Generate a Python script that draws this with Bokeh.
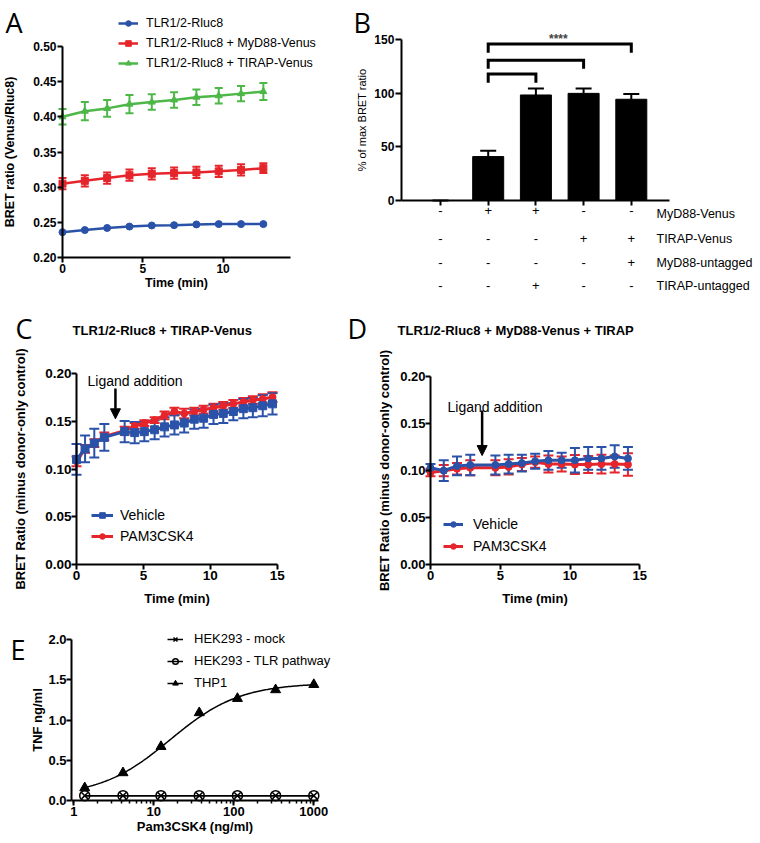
import numpy as np
from bokeh.plotting import figure
from bokeh.layouts import column, row
from bokeh.models import (Range1d, FixedTicker, Whisker, TeeHead, ColumnDataSource, Legend,
                          LegendItem, Label, LabelSet, Arrow, NormalHead, NumeralTickFormatter)
from bokeh.embed import file_html
from bokeh.resources import INLINE
from bokeh.core.properties import value

FONT = "Liberation Sans"
LFONT = "Open Sans"
BLUE = "#2a52a8"
RED = "#e5252b"
GREEN = "#4db748"

# ---------------- data ----------------
# Panel A
a_time = [0, 1.39, 2.78, 4.17, 5.56, 6.95, 8.34, 9.73, 11.12, 12.51]
a_rluc = [0.236, 0.239, 0.242, 0.244, 0.2455, 0.246, 0.247, 0.2475, 0.2475, 0.2475]
a_myd = [0.305, 0.309, 0.313, 0.317, 0.319, 0.320, 0.321, 0.3225, 0.3245, 0.327]
a_myd_err = [0.008, 0.008, 0.008, 0.008, 0.008, 0.008, 0.008, 0.008, 0.008, 0.007]
a_tirap = [0.400, 0.408, 0.412, 0.418, 0.421, 0.424, 0.428, 0.430, 0.433, 0.436]
a_tirap_err = [0.011, 0.013, 0.012, 0.013, 0.011, 0.011, 0.011, 0.011, 0.011, 0.012]
a_names = ["TLR1/2-Rluc8", "TLR1/2-Rluc8 + MyD88-Venus", "TLR1/2-Rluc8 + TIRAP-Venus"]

# Panel B
b_values = [0, 41, 98.5, 100, 94.5]
b_err = [0, 5.5, 6, 4.5, 5]
b_rows = ["MyD88-Venus", "TIRAP-Venus", "MyD88-untagged", "TIRAP-untagged"]
b_table = [["-", "+", "+", "-", "-"],
           ["-", "-", "-", "+", "+"],
           ["-", "-", "-", "-", "+"],
           ["-", "-", "+", "-", "-"]]
b_brackets = [(1, 2, 118), (1, 3, 131), (1, 4, 146)]
b_sig = "****"

# Panel C
c_time = [0, 0.64, 1.33, 2.08, 3.6, 4.35, 5.07, 5.84, 6.58, 7.32, 8.05, 8.8, 9.5, 10.24,
          10.97, 11.72, 12.47, 13.18, 13.92, 14.65]
c_vehicle = [0.110, 0.121, 0.127, 0.133, 0.139, 0.138, 0.139, 0.141, 0.144, 0.146, 0.148,
             0.152, 0.153, 0.157, 0.158, 0.160, 0.163, 0.164, 0.166, 0.168]
c_vehicle_err = [0.016, 0.014, 0.015, 0.014, 0.011, 0.011, 0.010, 0.010, 0.010, 0.010, 0.010,
                 0.010, 0.010, 0.010, 0.010, 0.009, 0.010, 0.010, 0.011, 0.011]
c_pam = [0.108, 0.121, 0.127, 0.134, 0.140, 0.145, 0.148, 0.151, 0.156, 0.160, 0.158, 0.160,
         0.162, 0.164, 0.166, 0.168, 0.170, 0.172, 0.173, 0.175]
c_pam_err = [0.005, 0.004, 0.004, 0.004, 0.004, 0.003, 0.003, 0.003, 0.004, 0.004, 0.005,
             0.004, 0.004, 0.004, 0.004, 0.004, 0.004, 0.004, 0.005, 0.005]
c_ligand_time = 2.91

# Panel D
d_time = [0, 0.95, 1.9, 2.85, 4.65, 5.6, 6.55, 7.5, 8.45, 9.4, 10.35, 11.3, 12.25, 13.2, 14.15]
d_vehicle = [0.103, 0.100, 0.105, 0.106, 0.106, 0.107, 0.108, 0.110, 0.111, 0.111, 0.111,
             0.113, 0.113, 0.115, 0.113]
d_vehicle_err = [0.004, 0.011, 0.010, 0.011, 0.010, 0.010, 0.009, 0.008, 0.010, 0.008, 0.013,
                 0.012, 0.012, 0.012, 0.012]
d_pam = [0.098, 0.100, 0.102, 0.103, 0.103, 0.104, 0.1065, 0.109, 0.107, 0.107, 0.1065,
         0.1065, 0.107, 0.107, 0.1065]
d_pam_err = [0.004, 0.006, 0.006, 0.008, 0.008, 0.008, 0.007, 0.006, 0.009, 0.008, 0.010,
             0.009, 0.010, 0.009, 0.012]
d_ligand_time = 3.7

# Panel E
e_dose = [1.37, 4.12, 12.3, 37.0, 111, 333, 1000]
e_thp1 = [0.157, 0.344, 0.67, 1.09, 1.267, 1.375, 1.44]
e_mock = [0.06, 0.06, 0.06, 0.06, 0.06, 0.06, 0.06]
e_tlr = [0.06, 0.06, 0.06, 0.06, 0.06, 0.06, 0.06]
e_fit_bottom, e_fit_top, e_fit_ec50, e_fit_hill = 0.05, 1.46, 16.0, 1.0


# ---------------- helpers ----------------
def lin_range(v0, p0, v1, p1, lo, hi):
    """Range whose values v0, v1 fall at page pixels p0, p1 for a figure spanning lo..hi."""
    s = (p1 - p0) / (v1 - v0)
    return Range1d(v0 + (lo - p0) / s, v0 + (hi - p0) / s)


def make_fig(w, h, xr, yr, x_axis_type="linear"):
    p = figure(width=w, height=h, x_range=xr, y_range=yr, min_border=0,
               output_backend="svg", toolbar_location=None, x_axis_type=x_axis_type)
    p.grid.visible = False
    p.outline_line_color = None
    p.background_fill_color = "white"
    p.border_fill_color = "white"
    return p


def style(p, tick_size, label_size, xloc, yloc, xbounds, ybounds, xstand=1, ystand=1,
          xlab=0, ylab=5, tick_out=5, ylabel_bold=True):
    for ax in p.axis:
        ax.axis_line_width = 2
        ax.axis_line_color = "black"
        ax.major_tick_line_width = 2
        ax.major_tick_line_color = "black"
        ax.major_tick_in = 0
        ax.major_tick_out = tick_out
        ax.minor_tick_line_color = None
        ax.major_label_text_font = FONT
        ax.major_label_text_font_style = "bold"
        ax.major_label_text_font_size = tick_size
        ax.major_label_text_color = "black"
        ax.axis_label_text_font = FONT
        ax.axis_label_text_font_style = "bold"
        ax.axis_label_text_font_size = label_size
        ax.axis_label_text_color = "black"
    p.xaxis.fixed_location = xloc
    p.yaxis.fixed_location = yloc
    p.xaxis.bounds = xbounds
    p.yaxis.bounds = ybounds
    p.xaxis.major_label_standoff = xstand
    p.yaxis.major_label_standoff = ystand
    p.xaxis.axis_label_standoff = xlab
    p.yaxis.axis_label_standoff = ylab
    if not ylabel_bold:
        p.yaxis.axis_label_text_font_style = "normal"


def errbars(p, x, y, err, color, cap, lw=2, upper_only=False):
    up = [v + e for v, e in zip(y, err)]
    lo = list(y) if upper_only else [v - e for v, e in zip(y, err)]
    src = ColumnDataSource(dict(base=list(x), upper=up, lower=lo))
    w = Whisker(source=src, base="base", upper="upper", lower="lower",
                line_color=color, line_width=lw,
                upper_head=TeeHead(size=cap, line_color=color, line_width=lw),
                lower_head=None if upper_only else TeeHead(size=cap, line_color=color, line_width=lw))
    p.add_layout(w)


def label(p, x, y, text, size, units="screen", font=FONT, fstyle="normal", align="left",
          baseline="alphabetic"):
    p.add_layout(Label(x=x, y=y, x_units=units, y_units=units, text=text, text_font=font,
                       text_font_size=size, text_font_style=fstyle, text_align=align,
                       text_baseline=baseline, text_color="black"))


def legend(p, items, x, y, gw, size, spacing, standoff, gh=14):
    leg = Legend(items=items, location=(x, y), orientation="vertical", glyph_width=gw,
                 glyph_height=gh, label_height=gh, spacing=spacing, padding=0, margin=0,
                 border_line_color=None, background_fill_alpha=0, label_text_font=FONT,
                 label_text_font_size=size, label_standoff=standoff, label_text_color="black")
    p.add_layout(leg)


LETTER = "27px"

# ---------------- Panel A  (page x 0..350, y 0..300) ----------------
pA = make_fig(350, 300, lin_range(0, 62, 14.2, 290, 0, 350),
              lin_range(0.2, 257, 0.5, 46, 300, 0))
style(pA, "12px", "12.5px", 0.2, 0, (0, 14.2), (0.2, 0.5), xstand=1, ystand=1, xlab=0, ylab=13)
pA.xaxis.ticker = FixedTicker(ticks=[0, 5, 10])
pA.yaxis.ticker = FixedTicker(ticks=[0.2, 0.25, 0.3, 0.35, 0.4, 0.45, 0.5])
pA.yaxis.formatter = NumeralTickFormatter(format="0.00")
pA.xaxis.axis_label = "Time (min)"
pA.yaxis.axis_label = "BRET ratio (Venus/Rluc8)"
itemsA = []
for y, err, color, marker, size, name in [
        (a_rluc, None, BLUE, "circle", 7, a_names[0]),
        (a_myd, a_myd_err, RED, "square", 7, a_names[1]),
        (a_tirap, a_tirap_err, GREEN, "triangle", 7, a_names[2])]:
    if err is not None:
        errbars(pA, a_time, y, err, color, 8)
    l = pA.line(a_time, y, line_color=color, line_width=2.5)
    s = pA.scatter(a_time, y, marker=marker, size=size, fill_color=color, line_color=color)
    itemsA.append(LegendItem(label=name, renderers=[l, s]))
legend(pA, itemsA, 118, 230, 20, "12.5px", 6, 8)
label(pA, 5, 278, "A", LETTER, font=LFONT)

# ---------------- Panel B  (page x 350..760, y 0..300) ----------------
b_idx = list(range(len(b_values)))
pB = make_fig(410, 300, lin_range(0, 440, 1, 487.7, 350, 760),
              lin_range(0, 200, 150, 39.3, 300, 0))
style(pB, "12px", "11px", 0, -0.82, (-0.82, 4.8), (0, 150), xstand=0, ystand=1, xlab=0,
      ylab=3, tick_out=6, ylabel_bold=False)
pB.xaxis.ticker = FixedTicker(ticks=b_idx)
pB.xaxis.major_tick_out = 5
pB.xaxis.major_label_overrides = {i: s for i, s in zip(b_idx, b_table[0])}
pB.xaxis.major_label_text_font_style = "normal"
pB.xaxis.major_label_text_font_size = "13px"
pB.yaxis.ticker = FixedTicker(ticks=[0, 50, 100, 150])
pB.yaxis.axis_label = "% of max BRET ratio"
errbars(pB, b_idx, b_values, b_err, "black", 16, lw=2, upper_only=True)
pB.vbar(x=b_idx, top=b_values, width=0.65, fill_color="black", line_color="black")
leg_drop = 8
pB.multi_line(xs=[[a, a, b, b] for a, b, h in b_brackets],
              ys=[[h - leg_drop, h, h, h - leg_drop] for a, b, h in b_brackets],
              line_color="black", line_width=3, line_join="miter")
pB.add_layout(Label(x=2.47, y=151, text=b_sig, text_font=FONT, text_font_size="12px",
                    text_font_style="bold", text_align="center", text_baseline="alphabetic"))
row_y = [87, 62, 38, 15]          # screen px above figure bottom
tx, ty, tt = [], [], []
for r, cells in enumerate(b_table):
    if r == 0:
        continue                  # first row is carried by the x-axis tick labels
    for i, c in enumerate(cells):
        tx.append(b_idx[i]); ty.append(row_y[r]); tt.append(c)
pB.add_layout(LabelSet(x="x", y="y", text="t", source=ColumnDataSource(dict(x=tx, y=ty, t=tt)),
                       x_units="data", y_units="screen", text_font=value(FONT),
                       text_font_size=value("13px"), text_align="center",
                       text_baseline="middle", text_color="black"))
for r, name in enumerate(b_rows):
    label(pB, 306, row_y[r], name, "12.5px", baseline="middle")
label(pB, 3, 278, "B", LETTER, font=LFONT)

# ---------------- Panel C  (page x 0..345, y 300..610) ----------------
pC = make_fig(345, 310, lin_range(0, 76, 15, 276.7, 0, 345),
              lin_range(0, 564.3, 0.2, 372.7, 610, 300))
style(pC, "13.5px", "13px", 0, 0, (0, 15), (0, 0.2), xstand=1, ystand=0, xlab=8, ylab=14)
pC.xaxis.ticker = FixedTicker(ticks=[0, 5, 10, 15])
pC.yaxis.ticker = FixedTicker(ticks=[0, 0.05, 0.1, 0.15, 0.2])
pC.yaxis.formatter = NumeralTickFormatter(format="0.00")
pC.xaxis.axis_label = "Time (min)"
pC.yaxis.axis_label = "BRET Ratio (minus donor-only control)"
errbars(pC, c_time, c_pam, c_pam_err, RED, 10)
lp = pC.line(c_time, c_pam, line_color=RED, line_width=3)
sp = pC.scatter(c_time, c_pam, marker="circle", size=7, fill_color=RED, line_color=RED)
errbars(pC, c_time, c_vehicle, c_vehicle_err, BLUE, 10)
lv = pC.line(c_time, c_vehicle, line_color=BLUE, line_width=3)
sv = pC.scatter(c_time, c_vehicle, marker="square", size=8, fill_color=BLUE, line_color=BLUE)
legend(pC, [LegendItem(label="Vehicle", renderers=[lv, sv]),
            LegendItem(label="PAM3CSK4", renderers=[lp, sp])], 91, 66, 22, "14px", 5, 7)
pC.add_layout(Arrow(end=NormalHead(size=10, fill_color="black", line_color="black"),
                    x_start=c_ligand_time, y_start=0.184, x_end=c_ligand_time, y_end=0.1524,
                    line_width=2.5, line_color="black"))
label(pC, 4.37, 0.192, "Ligand addition", "14px", units="data", align="center", baseline="middle")
label(pC, 72, 280, "TLR1/2-Rluc8 + TIRAP-Venus", "13px", fstyle="bold", baseline="middle")
label(pC, 15, 282, "C", LETTER, font=LFONT)

# ---------------- Panel D  (page x 345..760, y 300..610) ----------------
pD = make_fig(415, 310, lin_range(0, 430, 15, 639.3, 345, 760),
              lin_range(0, 564.3, 0.2, 376, 610, 300))
style(pD, "13px", "13px", 0, 0, (0, 15), (0, 0.2), xstand=1, ystand=0, xlab=8, ylab=5)
pD.xaxis.ticker = FixedTicker(ticks=[0, 5, 10, 15])
pD.yaxis.ticker = FixedTicker(ticks=[0, 0.05, 0.1, 0.15, 0.2])
pD.yaxis.formatter = NumeralTickFormatter(format="0.00")
pD.xaxis.axis_label = "Time (min)"
pD.yaxis.axis_label = "BRET Ratio (minus donor-only control)"
errbars(pD, d_time, d_pam, d_pam_err, RED, 10)
lp2 = pD.line(d_time, d_pam, line_color=RED, line_width=3)
sp2 = pD.scatter(d_time, d_pam, marker="circle", size=7, fill_color=RED, line_color=RED)
errbars(pD, d_time, d_vehicle, d_vehicle_err, BLUE, 10)
lv2 = pD.line(d_time, d_vehicle, line_color=BLUE, line_width=3)
sv2 = pD.scatter(d_time, d_vehicle, marker="circle", size=7, fill_color=BLUE, line_color=BLUE)
legend(pD, [LegendItem(label="Vehicle", renderers=[lv2, sv2]),
            LegendItem(label="PAM3CSK4", renderers=[lp2, sp2])], 98, 56, 20, "14px", 6, 10)
pD.add_layout(Arrow(end=NormalHead(size=10, fill_color="black", line_color="black"),
                    x_start=d_ligand_time, y_start=0.164, x_end=d_ligand_time, y_end=0.116,
                    line_width=2.5, line_color="black"))
label(pD, 4.62, 0.168, "Ligand addition", "14px", units="data", align="center", baseline="middle")
label(pD, 52, 280, "TLR1/2-Rluc8 + MyD88-Venus + TIRAP", "13px", fstyle="bold", baseline="middle")
label(pD, 2, 282, "D", LETTER, font=LFONT)

# ---------------- Panel E  (page x 0..400, y 610..840) ----------------
ex = lin_range(0, 73.3, 3, 313.3, 0, 400)
pE = make_fig(400, 230, Range1d(10 ** ex.start, 10 ** ex.end),
              lin_range(0, 800, 2, 639, 840, 610), x_axis_type="log")
style(pE, "13px", "13px", 0, 0.936, (0.936, 1145), (0, 2), xstand=1, ystand=0, xlab=0, ylab=0)
pE.xaxis.formatter = NumeralTickFormatter(format="0")
pE.xaxis.minor_tick_line_color = "black"
pE.xaxis.minor_tick_line_width = 1.5
pE.xaxis.minor_tick_in = 0
pE.xaxis.minor_tick_out = 3
pE.yaxis.ticker = FixedTicker(ticks=[0, 0.5, 1.0, 1.5, 2.0])
pE.yaxis.formatter = NumeralTickFormatter(format="0.0")
pE.xaxis.axis_label = "Pam3CSK4 (ng/ml)"
pE.yaxis.axis_label = "TNF ng/ml"
fit_x = np.logspace(np.log10(e_dose[0]), np.log10(e_dose[-1]), 200)
fit_y = e_fit_bottom + (e_fit_top - e_fit_bottom) / (1 + (e_fit_ec50 / fit_x) ** e_fit_hill)
lm = pE.line(e_dose, e_mock, line_color="black", line_width=1.5)
sm = pE.scatter(e_dose, e_mock, marker="x", size=9, line_color="black", line_width=1.5)
lt = pE.line(e_dose, e_tlr, line_color="black", line_width=1.5)
st = pE.scatter(e_dose, e_tlr, marker="circle", size=10, fill_color=None, line_color="black",
                line_width=1.5)
lf = pE.line(fit_x, fit_y, line_color="black", line_width=1.5)
sf = pE.scatter(e_dose, e_thp1, marker="triangle", size=10, fill_color="black", line_color="black")
legend(pE, [LegendItem(label="HEK293 - mock", renderers=[lm, sm]),
            LegendItem(label="HEK293 - TLR pathway", renderers=[lt, st]),
            LegendItem(label="THP1", renderers=[lf, sf])], 167, 150, 16, "13px", 7, 11)
label(pE, 10, 191, "E", LETTER, font=LFONT)

layout = column(row(pA, pB), row(pC, pD), pE)
open("out.html", "w").write(file_html(layout, INLINE, title="BRET panels"))
